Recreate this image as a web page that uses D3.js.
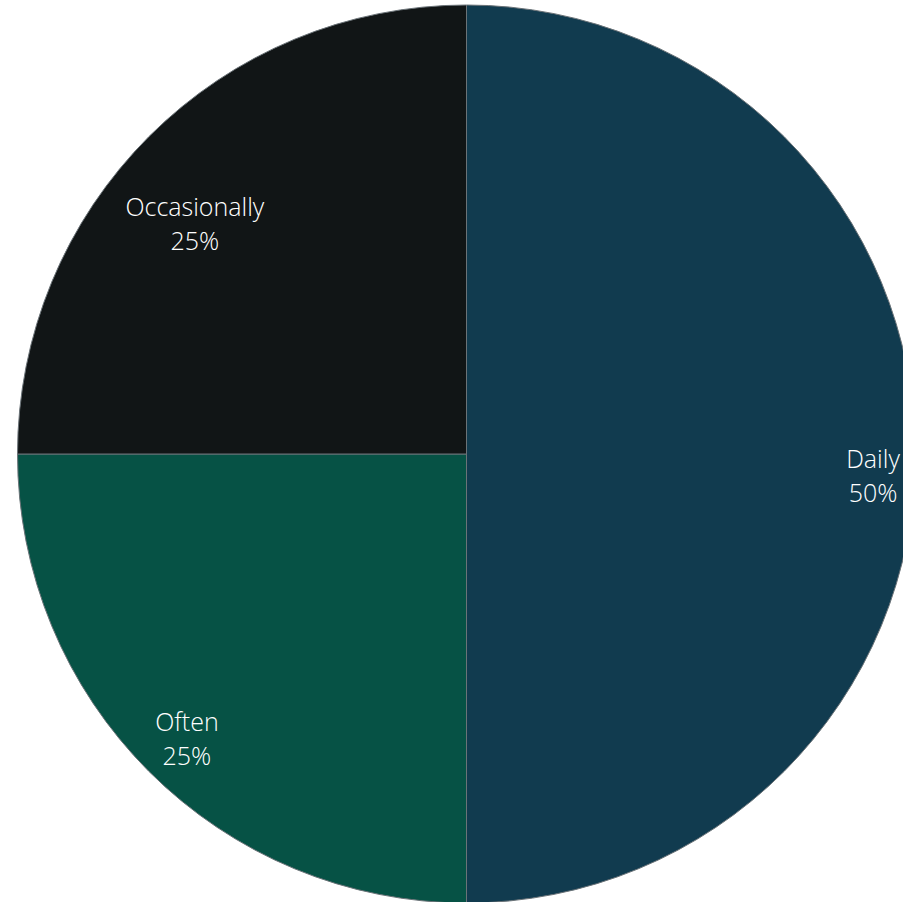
<!DOCTYPE html>
<html><head><meta charset="utf-8">
<script src="https://cdn.jsdelivr.net/npm/d3@7"></script>
<style>html,body{margin:0;padding:0;background:#fff;overflow:hidden}</style>
</head><body>
<svg id="chart" width="903" height="902"></svg>
<script>
const categories = ["Daily", "Often", "Occasionally"];
const values = [50, 25, 25];
const colors = ["#113b4f", "#065245", "#111516"];
// label placement (radius fraction of pie radius, angle nudge in degrees)
const labelRadius = [0.906, 0.876, 0.804];
const labelAngleNudge = [2, 0.3, -3.8];

const svg = d3.select("#chart");
const cx = 466.5, cy = 454, r = 449;
const g = svg.append("g").attr("transform", `translate(${cx},${cy})`);

const data = categories.map((c, i) => ({ name: c, value: values[i], color: colors[i], i }));
const pie = d3.pie().value(d => d.value).sort(null);
const arcs = pie(data);
const arc = d3.arc().innerRadius(0).outerRadius(r);

g.selectAll("path").data(arcs).join("path")
  .attr("d", arc)
  .attr("fill", d => d.data.color)
  .attr("stroke", "#6b7378")
  .attr("stroke-width", 1);

const total = d3.sum(values);
const lab = g.selectAll("text.lbl").data(arcs).join("text")
  .attr("class", "lbl")
  .attr("text-anchor", "middle")
  .attr("font-family", "'Open Sans', 'Noto Sans', sans-serif")
  .attr("font-weight", 300)
  .attr("font-size", 25)
  .attr("fill", "#ffffff")
  .attr("transform", d => {
    const a = (d.startAngle + d.endAngle) / 2 + labelAngleNudge[d.data.i] * Math.PI / 180;
    const rr = r * labelRadius[d.data.i];
    return `translate(${rr * Math.sin(a)},${-rr * Math.cos(a)})`;
  });
lab.append("tspan").attr("x", 0).attr("dy", 0).text(d => d.data.name);
lab.append("tspan").attr("x", 0).attr("dy", 34).text(d => Math.round(d.data.value / total * 100) + "%");
</script>
</body></html>
